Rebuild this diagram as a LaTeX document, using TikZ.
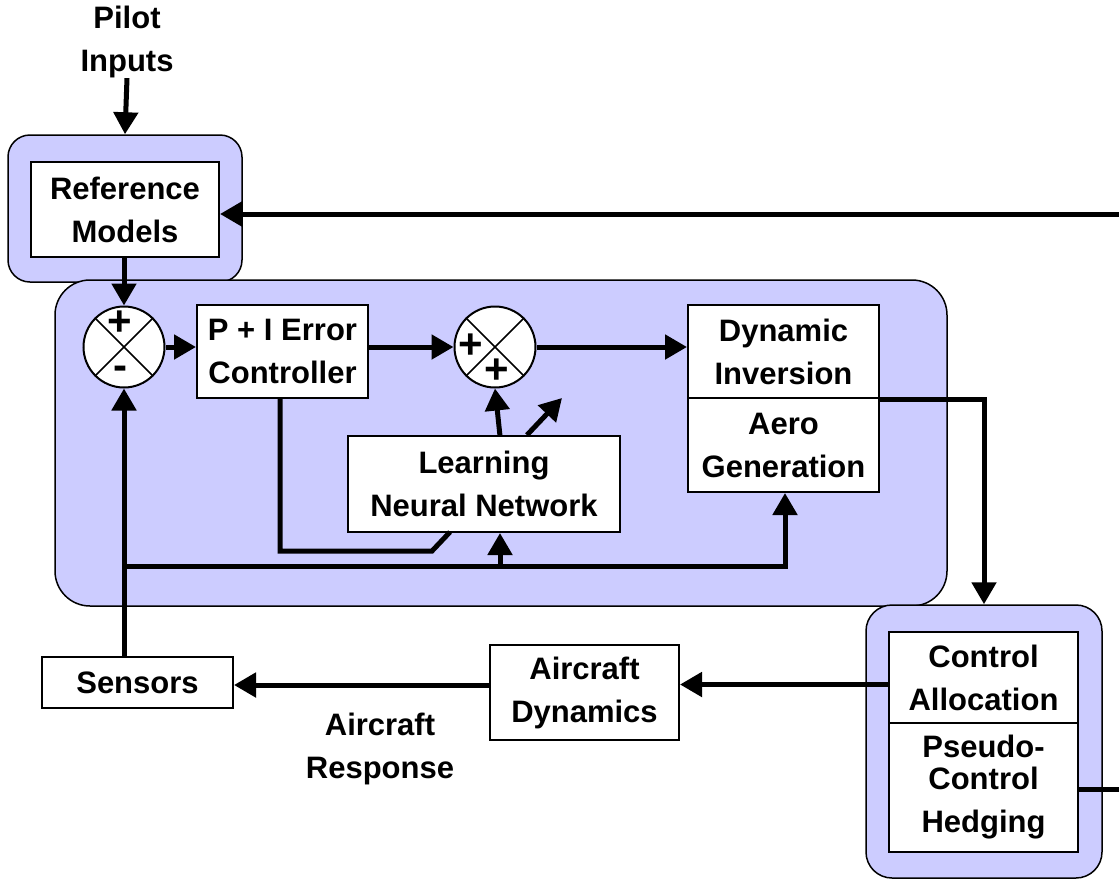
\documentclass[tikz,border=0pt]{standalone}
\usepackage{fontspec}
\setmainfont{Liberation Sans}
\usetikzlibrary{arrows.meta,calc}
\definecolor{lav}{HTML}{CCCCFF}
\begin{document}
\begin{tikzpicture}[x=1pt,y=-1pt,
  every node/.style={font=\fontsize{31}{43}\selectfont\bfseries, align=center, inner sep=0pt},
  box/.style={draw, line width=2pt, fill=white},
  panel/.style={draw, line width=1.5pt, fill=lav},
  sumj/.style={circle, draw, line width=2pt, fill=white, minimum size=81pt},
  sgn/.style={font=\fontsize{42}{42}\selectfont\bfseries},
  flow/.style={line width=5pt, -{Triangle[length=22pt,width=24pt]}},
  wire/.style={line width=5pt}]
\useasboundingbox (0,0) rectangle (1119,879);

% panels
\node[panel, rounded corners=22pt, minimum width=234pt, minimum height=147pt] (refouter) at (125,208.5) {};
\node[panel, rounded corners=35pt, minimum width=892pt, minimum height=326pt] (mainouter) at (501,443) {};
\node[panel, rounded corners=26pt, minimum width=236pt, minimum height=273pt] (caouter) at (984,741.5) {};

% boxes
\node (pilot) at (127,42) {Pilot\\Inputs};
\node[box, minimum width=188pt, minimum height=95pt] (ref) at (125,209.5) {Reference\\Models};
\node[box, minimum width=171pt, minimum height=93pt] (pi) at (282.5,351.5) {P + I Error\\Controller};
\node[box, minimum width=191pt, minimum height=93pt] (di) at (783.5,351.5) {Dynamic\\Inversion};
\node[box, minimum width=191pt, minimum height=94pt] (ag) at (783.5,445) {Aero\\Generation};
\node[box, minimum width=272pt, minimum height=96pt] (nn) at (484,484) {Learning\\Neural Network};
\node[box, minimum width=189pt, minimum height=91pt] (ca) at (983.5,677.5) {Control\\Allocation};
\node[box, minimum width=189pt, minimum height=129pt] (pch) at (983.5,787.5) {Pseudo-\\[-11pt]Control\\Hedging};
\node[box, minimum width=189pt, minimum height=95pt] (ad) at (584.5,692.5) {Aircraft\\Dynamics};
\node[box, minimum width=191pt, minimum height=51pt] (sens) at (137.5,682.5) {Sensors};
\node (resp) at (380,749) {Aircraft\\Response};

% summing junctions
\node[sumj] (s1) at (124,347) {};
\draw[line width=1.5pt] (s1.north east) -- (s1.south west) (s1.north west) -- (s1.south east);
\node[sgn] (s1p) at (120,323) {+};
\node[sgn] (s1m) at (120,373) {-};
\node[sumj] (s2) at (495,347) {};
\draw[line width=1.5pt] (s2.north east) -- (s2.south west) (s2.north west) -- (s2.south east);
\node[sgn] (s2a) at (471,346) {+};
\node[sgn] (s2b) at (497,371) {+};

% coordinates
\coordinate (hin) at (1119,214);
\coordinate (hout) at (1119,789);
\coordinate (fbj) at (125,566);
\coordinate (fbn) at (500,566);
\coordinate (fba) at (785,566);
\coordinate (pic) at (280,551);
\coordinate (pid) at (432,551);
\coordinate (nnk) at (450,532);
\coordinate (nnu) at (500,436);
\coordinate (nnd) at (527,435);
\coordinate (nnde) at (562,398);

% connectors
\draw[flow] (pilot.south) -- (refouter.north);
\draw[flow] (hin) -- (hin -| ref.east);
\draw[flow] (ref.south -| s1.north) -- (s1.north);
\draw[flow] (s1.east) -- (s1.east -| pi.west);
\draw[flow] (pi.east |- s2.west) -- (s2.west);
\draw[flow] (s2.east) -- (s2.east -| di.west);
\draw[flow] (di.south east) -| (caouter.north);
\draw[flow] ([yshift=-7pt]ca.west) -- ([yshift=-7pt]ca.west -| ad.east);
\draw[flow] (ad.west |- sens.east) ++(0,2.5) -- ([yshift=-2.5pt]sens.east);
\draw[flow] (sens.north -| s1.south) -- (s1.south);
\draw[flow] (fbj) -| (ag.south -| fba);
\draw[flow] (fbn) -- (nn.south -| fbn);
\draw[wire] (pi.south -| pic) -- (pic) -- (pid) -- (nnk);
\draw[flow] (nnu) -- (s2.south);
\draw[flow] (nnd) -- (nnde);
\draw[wire] (pch.east |- hout) -- (hout);
\end{tikzpicture}
\end{document}
